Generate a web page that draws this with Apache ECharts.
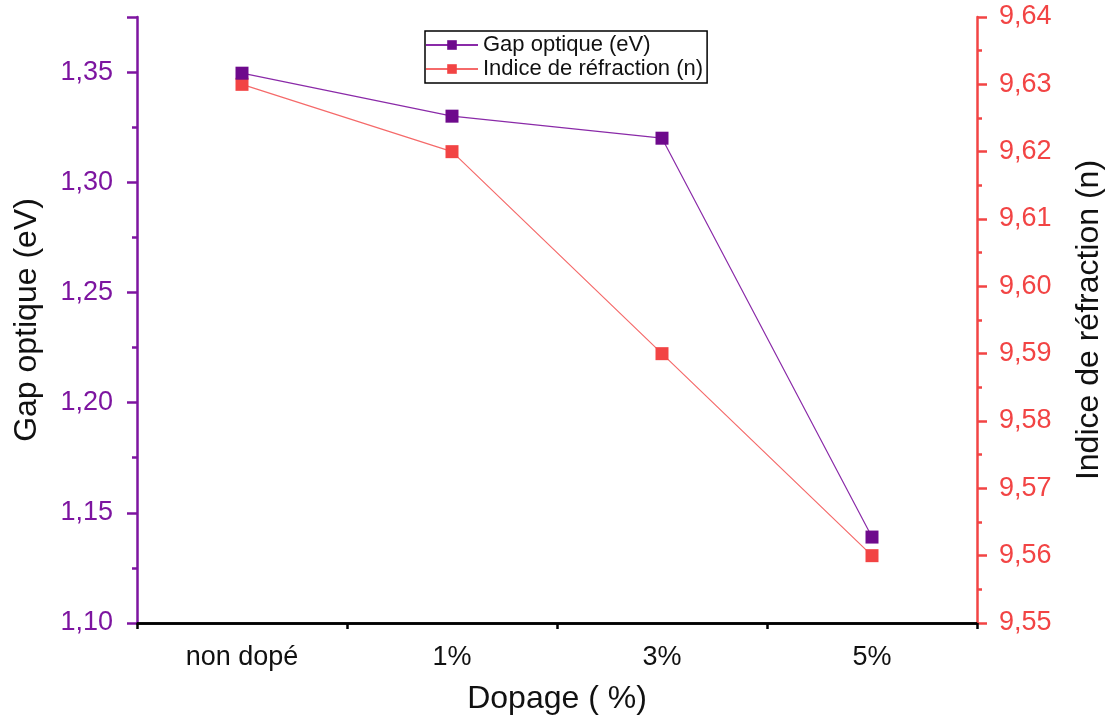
<!DOCTYPE html>
<html>
<head>
<meta charset="utf-8">
<script src="https://cdn.jsdelivr.net/npm/echarts@6/dist/echarts.min.js"></script>
<style>
  html, body { margin: 0; padding: 0; background: #fff; }
  #main { width: 1105px; height: 722px; }
</style>
</head>
<body>
<div id="main"></div>
<script>
// donnees
var categories = ['non dopé', '1%', '3%', '5%'];
var gapOptique = [1.3495, 1.33, 1.32, 1.139];
var indiceRefraction = [9.63, 9.62, 9.59, 9.56];

var purple = '#6e0a8c';
var purpleAxis = '#7d15a0';
var red = '#f24444';
var font = 'Liberation Sans, Arial, sans-serif';

function comma(v) {
  return v.toFixed(2).replace('.', ',');
}

var chartDom = document.getElementById('main');
var myChart = echarts.init(chartDom);
var option;

option = {
  backgroundColor: '#fff',
  animation: false,
  grid: [
    { left: 137, right: 128, top: 17, bottom: 99, outerBoundsMode: 'none', containLabel: false },
    // grille superposee, seulement pour les petites graduations de l'axe x
    { left: 137, right: 128, top: 17, bottom: 99, outerBoundsMode: 'none', containLabel: false }
  ],
  legend: {
    orient: 'vertical',
    left: 425,
    top: 31,
    padding: [3, 4, 3, 0],
    itemGap: 2,
    itemWidth: 52,
    itemHeight: 12,
    borderColor: '#000',
    borderWidth: 1.5,
    borderRadius: 0,
    textStyle: { fontFamily: font, fontSize: 22, color: '#111' },
    data: ['Gap optique (eV)', 'Indice de réfraction (n)']
  },
  xAxis: [
    {
      type: 'category',
      gridIndex: 0,
      data: categories,
      boundaryGap: true,
      name: 'Dopage ( %)',
      nameLocation: 'middle',
      nameGap: 60,
      nameTextStyle: { fontFamily: font, fontSize: 32, color: '#111', verticalAlign: 'top' },
      axisLine: { lineStyle: { color: '#000', width: 2.5 } },
      axisTick: { alignWithLabel: true, length: 12, lineStyle: { color: '#000', width: 2.5 } },
      axisLabel: { fontFamily: font, fontSize: 27, color: '#111', margin: 21 },
      splitLine: { show: false }
    },
    {
      type: 'category',
      gridIndex: 1,
      data: categories,
      boundaryGap: true,
      position: 'bottom',
      axisLine: { show: true, lineStyle: { color: '#000', width: 2.5 } },
      axisTick: { show: true, alignWithLabel: false, length: 6, lineStyle: { color: '#000', width: 2.5 } },
      axisLabel: { show: false },
      splitLine: { show: false }
    }
  ],
  yAxis: [
    {
      type: 'value',
      gridIndex: 0,
      min: 1.10,
      max: 1.375,
      interval: 0.05,
      name: 'Gap optique (eV)',
      nameLocation: 'middle',
      nameGap: 94,
      nameTextStyle: { fontFamily: font, fontSize: 32, color: '#111' },
      axisLine: { show: true, lineStyle: { color: purpleAxis, width: 2.5 } },
      axisTick: { show: true, length: 10, lineStyle: { color: purpleAxis, width: 2.5 } },
      minorTick: { show: true, splitNumber: 2, length: 5, lineStyle: { color: purpleAxis, width: 2.5 } },
      axisLabel: {
        fontFamily: font, fontSize: 27, color: purpleAxis, margin: 24,
        showMaxLabel: false,
        formatter: function (v) { return comma(v); }
      },
      splitLine: { show: false }
    },
    {
      type: 'value',
      gridIndex: 0,
      min: 9.55,
      max: 9.64,
      interval: 0.01,
      position: 'right',
      name: 'Indice de réfraction (n)',
      nameLocation: 'middle',
      nameGap: 96,
      nameRotate: 90,
      nameTextStyle: { fontFamily: font, fontSize: 32, color: '#111', verticalAlign: 'top' },
      axisLine: { show: true, lineStyle: { color: red, width: 2.5 } },
      axisTick: { show: true, length: 10, lineStyle: { color: red, width: 2.5 } },
      minorTick: { show: true, splitNumber: 2, length: 5, lineStyle: { color: red, width: 2.5 } },
      axisLabel: {
        fontFamily: font, fontSize: 27, color: red, margin: 22,
        formatter: function (v) { return comma(v); }
      },
      splitLine: { show: false }
    },
    {
      type: 'value',
      gridIndex: 1,
      min: 0,
      max: 1,
      show: false
    }
  ],
  series: [
    {
      name: 'Gap optique (eV)',
      type: 'line',
      xAxisIndex: 0,
      yAxisIndex: 0,
      data: gapOptique,
      symbol: 'rect',
      symbolSize: 13,
      color: purple,
      itemStyle: { color: purple },
      lineStyle: { color: '#8a2aa8', width: 1.2 },
      z: 3
    },
    {
      name: 'Indice de réfraction (n)',
      type: 'line',
      xAxisIndex: 0,
      yAxisIndex: 1,
      data: indiceRefraction,
      symbol: 'rect',
      symbolSize: 13,
      color: red,
      itemStyle: { color: red },
      lineStyle: { color: '#f56a6a', width: 1.2 },
      z: 2
    }
  ]
};

option && myChart.setOption(option);
</script>
</body>
</html>
